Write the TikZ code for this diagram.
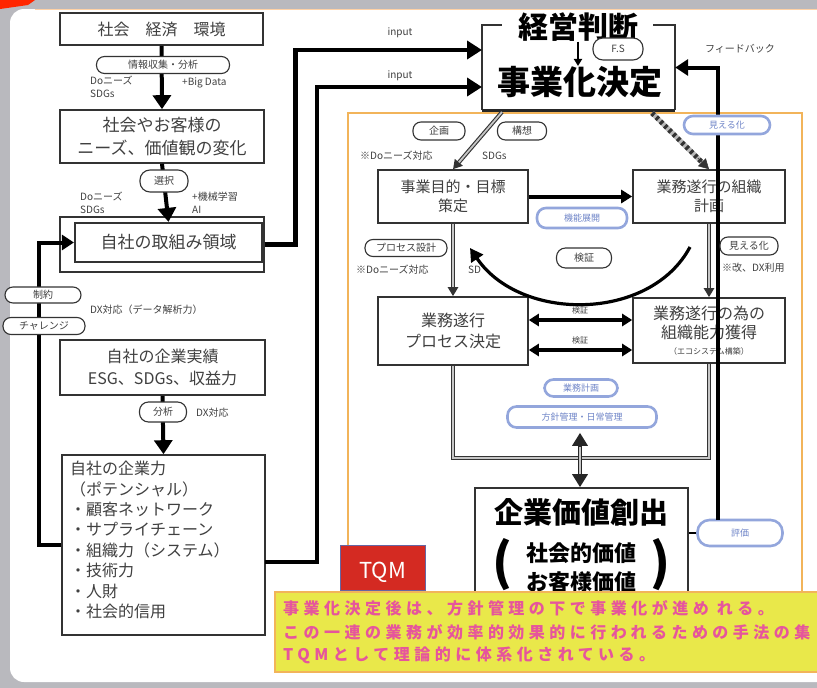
\documentclass[tikz,border=0pt]{standalone}
\usepackage{fontspec}
\setmainfont{Noto Sans CJK JP}
\newfontfamily\yel[LetterSpace=28]{Noto Sans CJK JP}
\usetikzlibrary{arrows.meta,calc}
\definecolor{boxline}{HTML}{333333}
\definecolor{txt}{HTML}{404040}
\definecolor{pillblue}{HTML}{93A6DC}
\definecolor{pilltext}{HTML}{6F85C8}
\definecolor{orangeline}{HTML}{F2B45A}
\definecolor{yellowbg}{HTML}{E9E84A}
\definecolor{pinktext}{HTML}{E6559C}
\definecolor{tqmred}{HTML}{D42A22}
\definecolor{framegray}{HTML}{B9B9BE}
\newcommand{\fsz}[2]{\fontsize{#1}{#2}\selectfont}
\begin{document}
\begin{tikzpicture}[x=1pt,y=-1pt,
  box/.style={draw=boxline,line width=1.6pt,fill=white,text=txt,align=center,inner sep=0pt},
  sz/.style 2 args={minimum width=#1,minimum height=#2},
  pill/.style={draw=boxline,line width=1.1pt,fill=white,rounded corners=8pt,inner sep=0pt,text=txt,font=\fsz{10}{12}},
  bpill/.style={draw=pillblue,line width=2.6pt,fill=white,rounded corners=9pt,inner sep=0pt,text=pilltext,font=\fsz{9}{11}},
  lbl/.style={text=txt,font=\fsz{10}{13},inner sep=0pt,align=left},
  thickarr/.style={line width=4pt,draw=black,-{Triangle[length=14pt,width=18pt]}},
  dblout/.style={draw=black!80,line width=4pt},
  dblin/.style={draw=gray!45,line width=1.8pt},
]
\useasboundingbox (0,0) rectangle (817,688);
% frame
\fill[framegray] (0,0) rectangle (817,688);
\fill[white,rounded corners=14pt] (10,9) rectangle (860,682);
\fill[red!70!orange] (0,0) -- (35,0) -- (28,5) -- (0,9) -- cycle;
\draw[orange!35,line width=1.5pt] (35,9.5) -- (817,9.5);

% orange frame
\draw[orangeline,line width=2pt] (348,113) rectangle (802,640);

% ---------- left column ----------
\node[box,sz={203pt}{32pt},font=\fsz{16}{19}] (soc) at (161.5,29) {社会　経済　環境};
\node[box,sz={204pt}{53pt},font=\fsz{17}{23}] (needs) at (162,136.5) {社会やお客様の\\ニーズ、価値観の変化};
\node[box,line width=1.3pt,sz={204pt}{55pt}] (areaout) at (162,244.5) {};
\node[box,line width=2.2pt,sz={187pt}{39pt},font=\fsz{17}{20}] (area) at (168.5,242.5) {自社の取組み領域};
\node[box,sz={205pt}{55pt},font=\fsz{16}{22}] (perf) at (162.5,367.5) {自社の企業実績\\ESG、SDGs、収益力};
\node[box,sz={203pt}{180pt}] (pot) at (163.5,545) {};
\node[anchor=north west,align=left,text=txt,font=\fsz{16}{20.4},inner sep=0pt] (pottxt) at (70,461)
  {自社の企業力\\（ポテンシャル）\\・顧客ネットワーク\\・サプライチェーン\\・組織力（システム）\\・技術力\\・人財\\・社会的信用};

\draw[thickarr] (soc.south) -- (needs.north);
\draw[thickarr] (needs.south) -- (area.north);
\draw[thickarr] (perf.south) -- (pot.north);
\draw[line width=4pt,-{Triangle[length=12pt,width=15pt]}] (pot.west) -- ++(-22,0) |- (area.west);

\node[pill,minimum width=133pt,minimum height=17pt] (p1) at (163,65) {情報収集・分析};
\node[lbl,anchor=north west] (l1) at (90,76) {Doニーズ\\SDGs};
\node[lbl,anchor=north west] (l2) at (182,78) {+Big Data};
\node[pill,minimum width=48pt,minimum height=22pt,rounded corners=10pt] (p2) at (164,181) {選択};
\node[lbl,anchor=north west] (l3) at (80,192) {Doニーズ\\SDGs};
\node[lbl,anchor=north west] (l4) at (192,192) {+機械学習\\AI};
\node[pill,minimum width=76pt,minimum height=16pt] (c1) at (43,295) {制約};
\node[pill,minimum width=82pt,minimum height=17pt] (c2) at (44,326) {チャレンジ};
\node[lbl,anchor=west] (l5) at (90,310) {DX対応（データ解析力）};
\node[pill,minimum width=47pt,minimum height=20pt,rounded corners=9pt] (p3) at (163,412) {分析};
\node[lbl,anchor=west] (l6) at (196,413) {DX対応};

% ---------- top decision box ----------
\node[inner sep=0pt,sz={193pt}{85pt}] (kb) at (578.5,67.5) {};
\draw[boxline,line width=1.5pt] ($(kb.north west)+(20,0)$) -- (kb.north west) -- (kb.south west);
\draw[boxline,line width=1.5pt] ($(kb.north east)+(-22,0)$) -- (kb.north east) -- (kb.south east);
\draw[black!85,line width=3pt] (kb.south west) -- (kb.south east);
\node[font=\bfseries\fsz{30}{32},inner sep=0pt] (kh) at (578,27) {経営判断};
\node[font=\bfseries\fsz{33}{36},inner sep=0pt] (jk) at (580,82) {事業化決定};
\draw[line width=2pt,-{Triangle[length=7pt,width=8pt]}] (kh.south) -- (kh.south |- jk.north);
\node[pill,minimum width=50pt,minimum height=22pt,rounded corners=10pt] (fs) at (618,49) {F.S};

% inputs
\coordinate (in1) at (482,50);
\coordinate (in2) at (482,87);
\coordinate (b6r) at (265,562);
\draw[line width=4.5pt,-{Triangle[length=15pt,width=18pt]}] (areaout.east) -- ++(31,0) |- (in1);
\draw[line width=4.5pt,-{Triangle[length=15pt,width=18pt]}] (b6r) -- ++(52,0) |- (in2);
\node[lbl] (inp1) at (400,33) {input};
\node[lbl] (inp2) at (400,76) {input};

% ---------- right part ----------
\node[box,sz={150pt}{53pt},font=\fsz{15}{19}] (A) at (453,196.5) {事業目的・目標\\策定};
\node[box,sz={152pt}{53pt},font=\fsz{15}{19}] (B) at (709,196.5) {業務遂行の組織\\計画};
\node[box,sz={150pt}{68pt},font=\fsz{16}{21}] (C) at (453,331) {業務遂行\\プロセス決定};
\node[box,sz={152pt}{65pt},font=\fsz{16}{19}] (D) at (709,330.5) {業務遂行の為の\\組織能力獲得\\[-3pt]{\fsz{8}{9}（エコシステム構築）}};

% diagonals from decision box
\coordinate (d1) at (502,112);
\coordinate (d2) at (652,113);
\draw[dblout,-{Triangle[length=9pt,width=10pt]}] (d1) -- (A.north);
\draw[dblin,shorten >=9pt] (d1) -- (A.north);
\draw[gray!55,line width=5pt,shorten >=9pt] (d2) -- (B.north);
\draw[black!80,line width=5pt,dash pattern=on 3pt off 3pt,shorten >=9pt] (d2) -- (B.north);
\draw[black!80,line width=0.5pt,-{Triangle[length=10pt,width=11pt]}] ($(d2)!0.8!(B.north)$) -- (B.north);

% A->B, A->C, B->D
\draw[line width=4pt,-{Triangle[length=11pt,width=13pt]}] (A.east) -- (B.west);
\draw[dblout,-{Triangle[length=9pt,width=10pt]}] (A.south) -- (C.north);
\draw[dblin,shorten >=9pt] (A.south) -- (C.north);
\draw[dblout,-{Triangle[length=9pt,width=10pt]}] (B.south) -- (D.north);
\draw[dblin,shorten >=9pt] (B.south) -- (D.north);

% C <-> D
\node[lbl,font=\fsz{8}{9}] (v1) at (580,310) {検証};
\node[lbl,font=\fsz{8}{9}] (v2) at (580,340) {検証};
\draw[line width=3.5pt,{Triangle[length=10pt,width=12pt]}-{Triangle[length=10pt,width=12pt]}] ($(C.east)+(0,-11)$) -- ($(D.west)+(0,-10.5)$);
\draw[line width=3.5pt,{Triangle[length=10pt,width=12pt]}-{Triangle[length=10pt,width=12pt]}] ($(C.east)+(0,19)$) -- ($(D.west)+(0,19.5)$);

% curved arrow
\coordinate (cs) at (690,247);
\coordinate (ce) at (470,248);
\draw[line width=3.2pt,-{Triangle[length=13pt,width=14pt]}] (cs) .. controls (650,322) and (520,322) .. (ce);

% value box
\node[box,sz={213pt}{122pt}] (kv) at (581.5,549) {};
\coordinate (jn) at (580,458);
\node[bpill,minimum width=73pt,minimum height=17pt] (gyo) at (581,388) {業務計画};
\node[bpill,minimum width=149pt,minimum height=21pt] (hk) at (582,417) {方針管理・日常管理};
\draw[dblout] (C.south) |- (jn) -| (D.south);
\draw[dblin] (C.south) |- (jn) -| (D.south);
\draw[black!85,line width=3.5pt,{Triangle[length=13pt,width=15pt]}-{Triangle[length=13pt,width=15pt]}] ($(jn |- hk.south)+(0,4)$) -- (jn |- kv.north);
\draw[gray!45,line width=1.4pt,shorten <=14pt,shorten >=13pt] ($(jn |- hk.south)+(0,4)$) -- (jn |- kv.north);

% feedback
\node[bpill,minimum width=85pt,minimum height=26pt,rounded corners=12pt] (hyo) at (740,533) {評価};
\coordinate (fbv) at (718,520);
\draw[line width=4pt,-{Triangle[length=13pt,width=16pt]}] (fbv) |- (kb.east);
\draw[line width=2.5pt] (kv.east |- hyo.west) -- (hyo.west);
\node[lbl] (fbl) at (740,49) {フィードバック};

% pills in right part
\node[pill,minimum width=52pt,minimum height=18pt] (kik) at (439,131) {企画};
\node[pill,minimum width=49pt,minimum height=18pt] (kos) at (522,131) {構想};
\node[lbl,anchor=west] (l7) at (360,156) {※Doニーズ対応};
\node[lbl,anchor=west] (l8) at (482,156) {SDGs};
\node[bpill,minimum width=86pt,minimum height=18pt] (mie1) at (727,125) {見える化};
\node[bpill,minimum width=90pt,minimum height=20pt] (kin) at (582,218) {機能展開};
\node[pill,minimum width=55pt,minimum height=20pt,rounded corners=9pt] (ken) at (584,258) {検証};
\node[pill,minimum width=82pt,minimum height=17pt] (pro) at (406,248) {プロセス設計};
\node[lbl,anchor=west] (l9) at (356,270) {※Doニーズ対応};
\node[lbl,anchor=west] (l10) at (468,270) {SD};
\node[pill,minimum width=58pt,minimum height=18pt] (mie2) at (749,246) {見える化};
\node[lbl,anchor=west] (l11) at (722,268) {※改、DX利用};

% value box text
\node[font=\bfseries\fsz{29}{30},inner sep=0pt] (kvt) at (581,512) {企業価値創出};
\node[font=\bfseries\fsz{22}{29},align=center,inner sep=0pt] (kvs) at (581,568) {社会的価値\\お客様価値};
\node[font=\bfseries\fsz{50}{50},inner sep=0pt] (lp) at (502,565) {(};
\node[font=\bfseries\fsz{50}{50},inner sep=0pt] (rp) at (660,565) {)};

% TQM and yellow note
\node[fill=tqmred,draw=black!60!blue!60,line width=1pt,sz={85pt}{45pt},inner sep=0pt] (tqm) at (382.5,567.5) {};
\node[text=white,font=\fsz{22}{24},inner sep=0pt] (tqmt) at ($(tqm.center)+(0,5)$) {TQM};
\node[fill=yellowbg,draw=orangeline,line width=1.5pt,sz={555pt}{80pt},inner sep=0pt] (yb) at (552.5,632) {};
\node[anchor=west,text=pinktext,inner sep=0pt,font=\yel\bfseries\fsz{16}{18}] (y1) at (283,608) {事業化決定後は、方針管理の下で事業化が進め れる。};
\node[anchor=west,text=pinktext,inner sep=0pt,font=\yel\bfseries\fsz{16}{18}] (y2) at (283,632) {この一連の業務が効率的効果的に行われるための手法の集};
\node[anchor=west,text=pinktext,inner sep=0pt,font=\yel\bfseries\fsz{16}{18}] (y3) at (283,655) {TQMとして理論的に体系化されている。};
\end{tikzpicture}
\end{document}
